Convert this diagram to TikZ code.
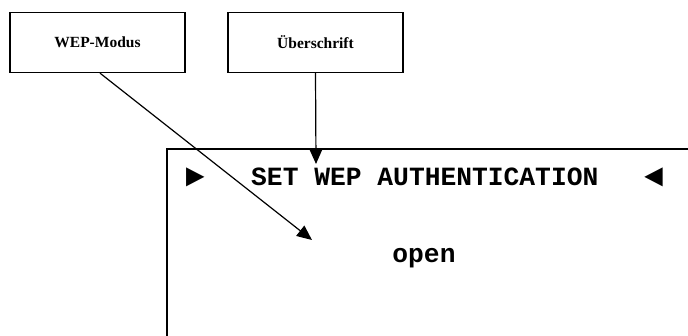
\documentclass[tikz,border=0pt]{standalone}
\usepackage{fontspec}
\setmainfont{Liberation Serif}
\newfontfamily\monofont{Liberation Mono}
\usetikzlibrary{arrows.meta}
\begin{document}
\begin{tikzpicture}[x=1pt,y=-1pt,
  labelbox/.style={draw,line width=1.3pt,minimum width=175pt,minimum height=60pt,inner sep=0pt,font=\fontsize{15.5}{17}\selectfont\bfseries},
  conn/.style={line width=1.2pt,-{Triangle[length=15pt,width=13pt]}},
  screentext/.style={inner sep=0pt,font=\monofont\bfseries\fontsize{26.3}{28}\selectfont},
  marktext/.style={inner sep=0pt,font=\monofont\bfseries\fontsize{32}{34}\selectfont}]
\useasboundingbox (0,0) rectangle (688,336);
\fill[white] (0,0) rectangle (688,336);
\node[labelbox] (b1) at (97.5,42.5) {WEP-Modus};
\node[labelbox] (b2) at (315.5,42.5) {Überschrift};
% screen (cut off at right and bottom)
\draw[line width=1.3pt] (688,149) -- (167,149) -- (167,336);
\node[marktext] (tl) at (195,177) {►};
\node[screentext,anchor=west] (title) at (251,177) {SET WEP AUTHENTICATION};
\node[marktext] (tr) at (654,177) {◄};
\node[screentext] (open) at (424,258) {open};
\coordinate (t1) at (312,240);
\coordinate (t2) at (316,164);
\draw[conn] ([xshift=2.5pt]b1.south) -- (t1);
\draw[conn] (b2.south) -- (t2);
\end{tikzpicture}
\end{document}
